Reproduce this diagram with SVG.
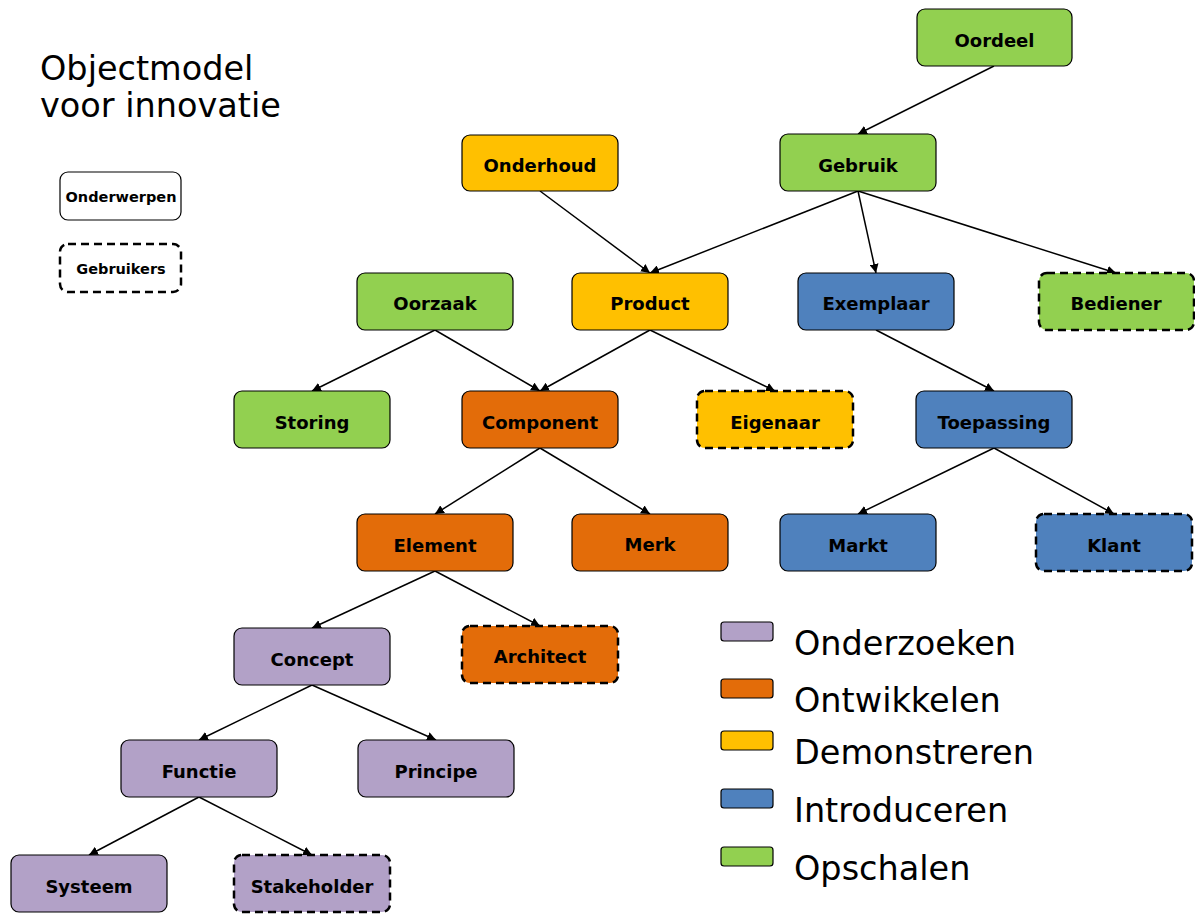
<svg xmlns="http://www.w3.org/2000/svg" width="1195" height="914" viewBox="0 0 1195 914">
<style>
.n{stroke:#000;stroke-width:1.2}
.d{stroke:#000;stroke-width:2.5;stroke-dasharray:8,5}
.t{font-family:"DejaVu Sans",Verdana,sans-serif;font-weight:bold;font-size:18px;text-anchor:middle;dominant-baseline:central;fill:#000}
.s{font-size:14.5px}
.g{fill:#92D050}.y{fill:#FFC000}.b{fill:#4F81BD}.o{fill:#E36C09}.p{fill:#B2A1C7}
.big{font-family:"DejaVu Sans",Verdana,sans-serif;font-size:33.5px;fill:#000}
.c line{stroke:#000;stroke-width:1.5;marker-end:url(#ah)}
</style>
<defs>
<marker id="ah" viewBox="0 0 10 10" refX="10" refY="5" markerWidth="9" markerHeight="9" markerUnits="userSpaceOnUse" orient="auto"><path d="M0,0L10,5L0,10z" fill="#000"/></marker>
</defs>
<rect width="1195" height="914" fill="#fff"/>
<text class="big" x="40" y="80">Objectmodel</text>
<text class="big" x="40" y="117">voor innovatie</text>
<g id="legend-onderwerpen"><rect x="60" y="172" width="121" height="48" rx="8" fill="#fff" class="n"/><text class="t s" x="121" y="197">Onderwerpen</text></g>
<g id="legend-gebruikers"><rect x="60" y="244" width="121" height="48" rx="8" fill="#fff" class="d"/><text class="t s" x="121" y="269">Gebruikers</text></g>
<g class="c" id="connectors">
<line x1="994" y1="66" x2="858" y2="134"/>
<line x1="858" y1="191" x2="650" y2="273"/>
<line x1="858" y1="191" x2="876" y2="273"/>
<line x1="858" y1="191" x2="1116" y2="273"/>
<line x1="540" y1="191" x2="650" y2="273"/>
<line x1="435" y1="330" x2="312" y2="391"/>
<line x1="435" y1="330" x2="540" y2="391"/>
<line x1="650" y1="330" x2="540" y2="391"/>
<line x1="650" y1="330" x2="775" y2="391"/>
<line x1="876" y1="330" x2="994" y2="391"/>
<line x1="540" y1="448" x2="435" y2="514"/>
<line x1="540" y1="448" x2="650" y2="514"/>
<line x1="994" y1="448" x2="858" y2="514"/>
<line x1="994" y1="448" x2="1114" y2="514"/>
<line x1="435" y1="571" x2="312" y2="628"/>
<line x1="435" y1="571" x2="540" y2="626"/>
<line x1="312" y1="685" x2="199" y2="740"/>
<line x1="312" y1="685" x2="436" y2="740"/>
<line x1="199" y1="797" x2="89" y2="855"/>
<line x1="199" y1="797" x2="312" y2="855"/>
</g>
<g id="oordeel"><rect x="917" y="9" width="155" height="57" rx="8" class="n g"/><text class="t" x="994.5" y="40">Oordeel</text></g>
<g id="onderhoud"><rect x="462" y="135" width="156" height="56" rx="8" class="n y"/><text class="t" x="540" y="165">Onderhoud</text></g>
<g id="gebruik"><rect x="780" y="134" width="156" height="57" rx="8" class="n g"/><text class="t" x="858" y="165">Gebruik</text></g>
<g id="oorzaak"><rect x="357" y="273" width="156" height="57" rx="8" class="n g"/><text class="t" x="435" y="303">Oorzaak</text></g>
<g id="product"><rect x="572" y="273" width="156" height="57" rx="8" class="n y"/><text class="t" x="650" y="303">Product</text></g>
<g id="exemplaar"><rect x="798" y="273" width="156" height="57" rx="8" class="n b"/><text class="t" x="876" y="303">Exemplaar</text></g>
<g id="bediener"><rect x="1039" y="273" width="155" height="57" rx="8" class="d g"/><text class="t" x="1116" y="303">Bediener</text></g>
<g id="storing"><rect x="234" y="391" width="156" height="57" rx="8" class="n g"/><text class="t" x="312" y="422">Storing</text></g>
<g id="component"><rect x="462" y="391" width="156" height="57" rx="8" class="n o"/><text class="t" x="540" y="422">Component</text></g>
<g id="eigenaar"><rect x="697" y="391" width="156" height="57" rx="8" class="d y"/><text class="t" x="775" y="422">Eigenaar</text></g>
<g id="toepassing"><rect x="916" y="391" width="156" height="57" rx="8" class="n b"/><text class="t" x="994" y="422">Toepassing</text></g>
<g id="element"><rect x="357" y="514" width="156" height="57" rx="8" class="n o"/><text class="t" x="435" y="545">Element</text></g>
<g id="merk"><rect x="572" y="514" width="156" height="57" rx="8" class="n o"/><text class="t" x="650" y="544">Merk</text></g>
<g id="markt"><rect x="780" y="514" width="156" height="57" rx="8" class="n b"/><text class="t" x="858" y="545">Markt</text></g>
<g id="klant"><rect x="1036" y="514" width="156" height="57" rx="8" class="d b"/><text class="t" x="1114" y="545">Klant</text></g>
<g id="concept"><rect x="234" y="628" width="156" height="57" rx="8" class="n p"/><text class="t" x="312" y="659">Concept</text></g>
<g id="architect"><rect x="462" y="626" width="156" height="57" rx="8" class="d o"/><text class="t" x="540" y="656">Architect</text></g>
<g id="functie"><rect x="121" y="740" width="156" height="57" rx="8" class="n p"/><text class="t" x="199" y="771">Functie</text></g>
<g id="principe"><rect x="358" y="740" width="156" height="57" rx="8" class="n p"/><text class="t" x="436" y="771">Principe</text></g>
<g id="systeem"><rect x="11" y="855" width="156" height="57" rx="8" class="n p"/><text class="t" x="89" y="886">Systeem</text></g>
<g id="stakeholder"><rect x="234" y="855" width="156" height="57" rx="8" class="d p"/><text class="t" x="312" y="886">Stakeholder</text></g>
<g id="legend-colours">
<rect x="721" y="622" width="52" height="19" rx="3" class="n p"/><text class="big" x="794" y="655">Onderzoeken</text>
<rect x="721" y="679" width="52" height="19" rx="3" class="n o"/><text class="big" x="794" y="712">Ontwikkelen</text>
<rect x="721" y="731" width="52" height="19" rx="3" class="n y"/><text class="big" x="794" y="764">Demonstreren</text>
<rect x="721" y="789" width="52" height="19" rx="3" class="n b"/><text class="big" x="794" y="822">Introduceren</text>
<rect x="721" y="847" width="52" height="19" rx="3" class="n g"/><text class="big" x="794" y="880">Opschalen</text>
</g>
</svg>
